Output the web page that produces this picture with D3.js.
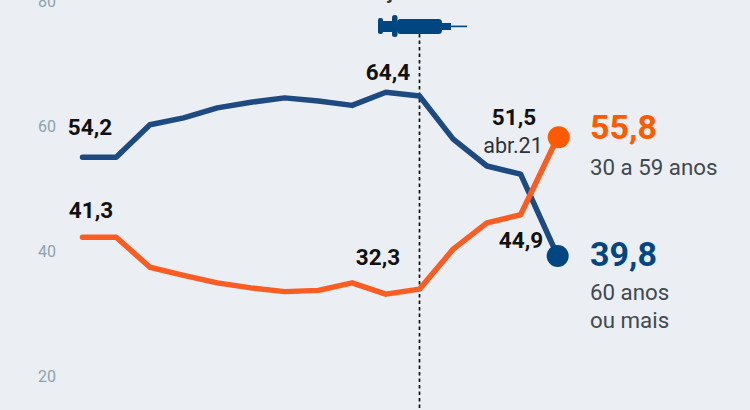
<!DOCTYPE html>
<html><head><meta charset="utf-8">
<style>html,body{margin:0;padding:0;background:#ebeef2;overflow:hidden}svg{display:block}text{font-family:Roboto,sans-serif}</style>
<script src="https://cdn.jsdelivr.net/npm/d3@7"></script></head><body>
<svg id="c" width="750" height="410"></svg>
<script>
const months=[0,1,2,3,4,5,6,7,8,9,10,11,12,13,14.1];
const older=[55.0,55.0,60.2,61.3,62.9,63.8,64.5,64.0,63.3,65.4,64.8,57.9,53.6,52.3,39.2];
const adults=[42.2,42.2,37.4,36.1,34.9,34.1,33.5,33.7,34.9,33.1,33.9,40.3,44.5,45.8,58.2];
const yTicks=[80,60,40,20];
const vaccineMonth=10;
const valueLabels=[
 {t:"54,2",x:90,y:135},{t:"41,3",x:91,y:218},{t:"64,4",x:388,y:80},
 {t:"32,3",x:378,y:265},{t:"51,5",x:514,y:125},{t:"44,9",x:521,y:248}];
const svg=d3.select("#c");
const x=d3.scaleLinear().domain([0,14]).range([82.5,554.3]);
const y=d3.scaleLinear().domain([20,80]).range([376,1]);
const line=d3.line().x((d,i)=>x(months[i])).y(d=>y(d));
const ax=d3.axisLeft(y).tickValues(yTicks).tickSize(0).tickPadding(0);
const axG=svg.append("g").attr("transform","translate(56,0)").call(ax);
axG.select(".domain").remove();
axG.selectAll("text").attr("fill","#8ca3b0").style("font-size","16px").style("font-family","Roboto,sans-serif");
svg.append("line").attr("x1",x(vaccineMonth)).attr("x2",x(vaccineMonth)).attr("y1",34).attr("y2",410)
 .attr("stroke","#111").attr("stroke-width",1.7).attr("stroke-dasharray","3.5 3");
svg.append("path").datum(older).attr("d",line).attr("fill","none").attr("stroke","#1d4a80").attr("stroke-width",5.5).attr("stroke-linecap","round").attr("stroke-linejoin","round");
svg.append("path").datum(adults).attr("d",line).attr("fill","none").attr("stroke","#f95d24").attr("stroke-width",5.5).attr("stroke-linecap","round").attr("stroke-linejoin","round");
svg.append("circle").attr("cx",x(14.1)+1).attr("cy",y(adults[14])).attr("r",11).attr("fill","#ff5a00");
svg.append("circle").attr("cx",x(14.1)).attr("cy",y(older[14])).attr("r",11).attr("fill","#004680");
const g=svg.append("g").attr("fill","#004680");
g.append("rect").attr("x",378).attr("y",18).attr("width",5).attr("height",16).attr("rx",2);
g.append("rect").attr("x",383).attr("y",21).attr("width",10).attr("height",11);
g.append("rect").attr("x",392).attr("y",15).attr("width",5.5).attr("height",22).attr("rx",2.5);
g.append("rect").attr("x",397).attr("y",19).attr("width",45).attr("height",15).attr("rx",3.5);
g.append("rect").attr("x",440).attr("y",23).attr("width",11).attr("height",7);
g.append("rect").attr("x",451).attr("y",25.6).attr("width",16).attr("height",1.6);
svg.append("g").selectAll("text").data(valueLabels).join("text")
 .attr("x",d=>d.x).attr("y",d=>d.y).attr("text-anchor","middle")
 .attr("font-size",22.5).attr("font-weight",700).attr("fill","#111").text(d=>d.t);
svg.append("text").attr("x",513).attr("y",152.5).attr("text-anchor","middle").attr("font-size",21.5).attr("fill","#2b3238").text("abr.21");
svg.append("text").attr("x",388).attr("y",-1).attr("font-size",18).attr("font-weight",700).attr("fill","#333").text("jan.21");
svg.append("text").attr("x",590).attr("y",139).attr("font-size",34).attr("font-weight",700).attr("fill","#ff5a00").text("55,8");
svg.append("text").attr("x",590).attr("y",266).attr("font-size",34).attr("font-weight",700).attr("fill","#004680").text("39,8");
svg.append("text").attr("x",590).attr("y",175).attr("font-size",22.3).attr("fill","#3f4a50").text("30 a 59 anos");
svg.append("text").attr("x",590).attr("y",300).attr("font-size",22.3).attr("fill","#3f4a50").text("60 anos");
svg.append("text").attr("x",590).attr("y",328).attr("font-size",22.3).attr("fill","#3f4a50").text("ou mais");
</script></body></html>
